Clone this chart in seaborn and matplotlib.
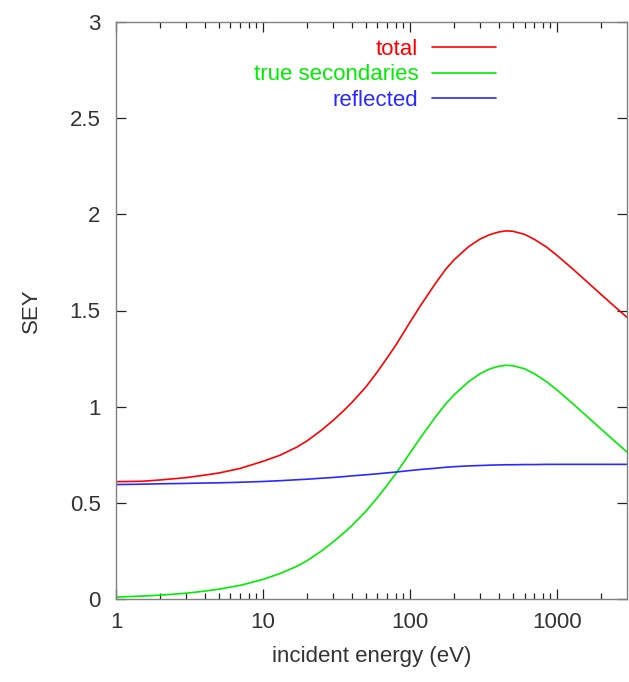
import matplotlib
matplotlib.use("Agg")
import matplotlib.pyplot as plt
import seaborn as sns
import pandas as pd
from matplotlib.ticker import FixedLocator, FixedFormatter, NullFormatter

# ---- data ----
energy = [1, 1.5, 2, 3, 4, 5, 7, 10, 13, 17, 20, 25, 30, 35, 40, 50, 60, 70,
          80, 100, 120, 150, 175, 200, 250, 300, 350, 400, 450, 500, 600, 700,
          850, 1000, 1250, 1500, 2000, 2500, 3000]
total = [0.61, 0.612, 0.619, 0.631, 0.644, 0.655, 0.679, 0.716, 0.747, 0.79,
         0.823, 0.878, 0.929, 0.976, 1.02, 1.102, 1.182, 1.255, 1.32, 1.44,
         1.535, 1.645, 1.715, 1.765, 1.832, 1.872, 1.895, 1.908, 1.914, 1.912,
         1.896, 1.870, 1.829, 1.786, 1.722, 1.668, 1.582, 1.516, 1.463]
true_sec = [0.010, 0.015, 0.020, 0.030, 0.041, 0.051, 0.071, 0.102, 0.132,
            0.170, 0.200, 0.250, 0.297, 0.340, 0.380, 0.456, 0.527, 0.593,
            0.652, 0.760, 0.848, 0.950, 1.015, 1.063, 1.130, 1.172, 1.197,
            1.210, 1.215, 1.213, 1.197, 1.171, 1.129, 1.086, 1.022, 0.968,
            0.882, 0.816, 0.763]
reflected = [0.595, 0.597, 0.599, 0.601, 0.603, 0.604, 0.607, 0.611, 0.615,
             0.62, 0.623, 0.628, 0.632, 0.636, 0.640, 0.646, 0.651, 0.656,
             0.66, 0.668, 0.674, 0.680, 0.685, 0.688, 0.692, 0.694, 0.696,
             0.697, 0.698, 0.698, 0.699, 0.699, 0.70, 0.70, 0.70, 0.70, 0.70,
             0.70, 0.70]
series_names = ["total", "true secondaries", "reflected"]
series_colors = ["#ff0000", "#00ee00", "#2a2aff"]
x_major = [1, 10, 100, 1000]
x_major_labels = ["1", "10", "100", "1000"]
y_major = [0, 0.5, 1, 1.5, 2, 2.5, 3]
y_major_labels = ["0", "0.5", "1", "1.5", "2", "2.5", "3"]

df = pd.DataFrame({
    "energy": energy * 3,
    "SEY": total + true_sec + reflected,
    "series": [series_names[0]] * len(energy) + [series_names[1]] * len(energy)
              + [series_names[2]] * len(energy),
})

sns.set_theme(style="ticks")
plt.rcParams["font.family"] = ["Liberation Sans", "DejaVu Sans"]

fig = plt.figure(figsize=(6.29, 6.82), dpi=100)
ax = fig.add_axes([116 / 629, 1 - 599 / 682, (627.3 - 116) / 629, (599 - 22) / 682])

sns.lineplot(data=df, x="energy", y="SEY", hue="series", hue_order=series_names,
             palette=series_colors, linewidth=1.2, legend=False, ax=ax,
             sort=False, estimator=None)

ax.set_xscale("log")
ax.set_xlim(1, 3000)
ax.set_ylim(0, 3)

minor = [m * 10 ** d for d in range(0, 4) for m in range(2, 10) if m * 10 ** d < 3000]
ax.xaxis.set_major_locator(FixedLocator(x_major))
ax.xaxis.set_major_formatter(FixedFormatter(x_major_labels))
ax.xaxis.set_minor_locator(FixedLocator(minor))
ax.xaxis.set_minor_formatter(NullFormatter())
ax.yaxis.set_major_locator(FixedLocator(y_major))
ax.yaxis.set_major_formatter(FixedFormatter(y_major_labels))

text_color = "#333333"
ax.tick_params(axis="both", which="major", direction="in", length=7, width=0.9,
               colors="#222222", labelcolor=text_color, labelsize=16,
               top=True, right=True)
ax.tick_params(axis="x", which="minor", direction="in", length=4, width=0.9,
               colors="#222222", top=True)
ax.tick_params(axis="x", which="major", pad=9)
ax.tick_params(axis="y", which="major", pad=11)
for s in ax.spines.values():
    s.set_color("#808080")
    s.set_linewidth(1.0)
    s.set_visible(True)

ax.set_xlabel("incident energy (eV)", fontsize=16, color=text_color, labelpad=10)
ax.set_ylabel("SEY", fontsize=16, color=text_color, labelpad=20)

handles = ax.lines[:3]
leg = ax.legend(handles, series_names, loc="upper right",
                bbox_to_anchor=((496 - 116) / 511.3, (599 - 39) / 577),
                frameon=False, markerfirst=False, fontsize=16,
                handlelength=2.9, handletextpad=0.6, labelspacing=0.2,
                borderpad=0, borderaxespad=0, labelcolor="linecolor")

fig.savefig("out.png", dpi=100)
